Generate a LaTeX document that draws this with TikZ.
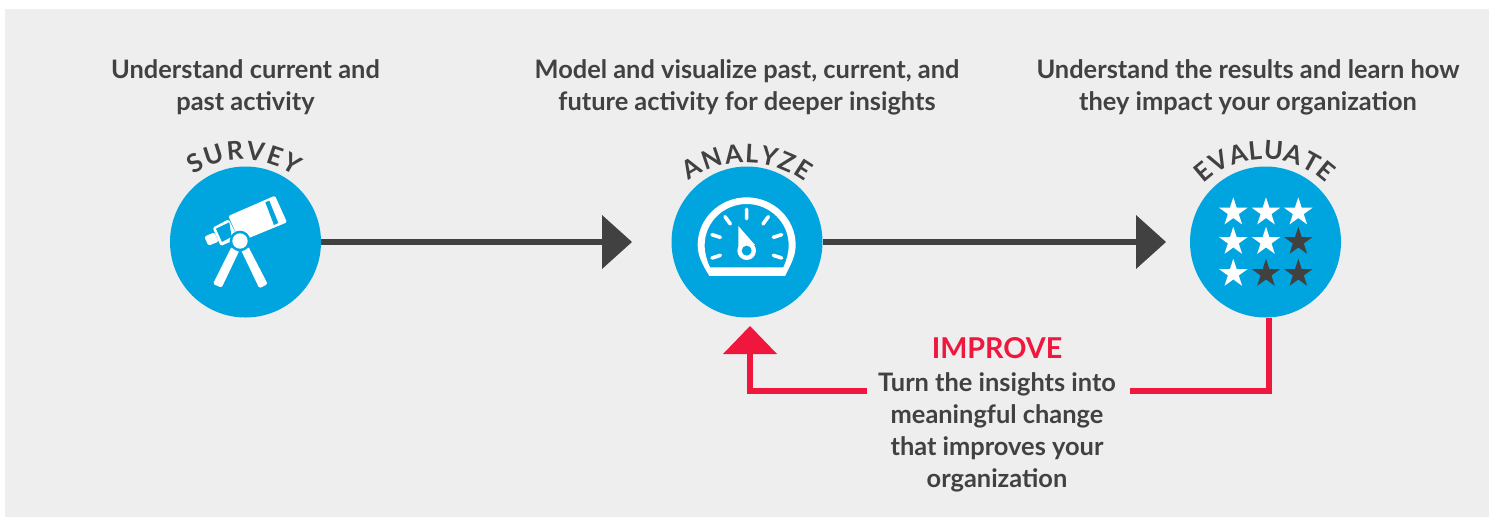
\documentclass[tikz,border=0pt]{standalone}
\usepackage{fontspec}
\setmainfont{Lato}[BoldFont={Lato Bold}]
\usetikzlibrary{decorations.text,shapes.geometric}
\definecolor{bgc}{HTML}{EEEEEE}
\definecolor{bluec}{HTML}{00A5E0}
\definecolor{darkc}{HTML}{414141}
\definecolor{redc}{HTML}{F0173F}
\tikzset{x=1pt,y=-1pt,
  head/.style={font=\fontsize{25.4}{32}\selectfont\bfseries,text=darkc,align=center,inner sep=0pt},
  circ/.style={circle,fill=bluec,minimum size=151pt,inner sep=0pt},
  flow/.style={line width=6pt,draw=darkc},
  back/.style={line width=6.5pt,draw=redc},
  wst/.style={star,star points=5,star point ratio=2.618,fill=white,minimum size=30pt,inner sep=0pt},
  dst/.style={star,star points=5,star point ratio=2.618,fill=darkc,minimum size=30pt,inner sep=0pt},
  arc text/.style={decorate,decoration={text effects along path,text={#1},
    text effects/.cd,text along path,fit text to path,
      characters={font=\fontsize{25.5}{25}\selectfont\bfseries,text=darkc,inner sep=0pt}}}
}
\begin{document}
\begin{tikzpicture}
\useasboundingbox (0,0) rectangle (1493,517);
\fill[white] (0,0) rectangle (1493,517);
\fill[bgc] (5,9) rectangle (1489,517);
% circles
\node[circ] (s) at (245.5,242) {};
\node[circ] (a) at (747,242) {};
\node[circ] (e) at (1265.5,242) {};
% head texts
\node[head] (t1) at (245.5,87) {Understand current and\\past activity};
\node[head] (t2) at (747,87) {Model and visualize past, current, and\\future activity for deeper insights};
\node[head] (t3) at (1248,87) {Understand the results and learn how\\they impact your organization};
% curved labels
\path[arc text={SURVEY}] (194,175) arc[start angle=-124,end angle=-55,radius=89];
\path[arc text={ANALYZE}] (689,181) arc[start angle=-126,end angle=-53,radius=97];
\path[arc text={EVALUATE}] (1204,184) arc[start angle=-134.5,end angle=-46,radius=87];
% arrows
\coordinate (h1) at (632,242);
\coordinate (h2) at (1166,242);
\draw[flow] (s.east) -- (604,242);
\fill[darkc] (602,215) -- (h1) -- (602,269) -- cycle;
\draw[flow] (a.east) -- (1138,242);
\fill[darkc] (1136,215) -- (h2) -- (1136,269) -- cycle;
% improve
\node[font=\fontsize{28.7}{29}\selectfont\bfseries,text=redc,inner sep=0pt] (imp) at (997,348) {IMPROVE};
\node[head,anchor=north] (tt) at (997,372) {Turn the insights into\\meaningful change\\that improves your\\organization};
\coordinate (c1) at (1269,391);
\coordinate (c2) at (750,391);
\draw[back,line join=miter] (e.south -| c1) -- (c1) -- (1130,391);
\draw[back,line join=miter] (867,391) -- (c2) -- (750,350);
\fill[redc] (723,354) -- (750,326) -- (777,354) -- cycle;
% telescope
\begin{scope}[shift={(150,130)},x=0.3333pt,y=-0.3333pt]
\fill[white,rounded corners=1.5pt] (235,258) -- (375,197) -- (411,277) -- (270,335) -- cycle;
\fill[bluec] (346,217) -- (358,212) -- (385,279) -- (372,285) -- cycle;
\fill[white,rounded corners=1.5pt] (188,293) -- (236,268) -- (265,325) -- (212,348) -- cycle;
\fill[bluec] (198,296) -- (238,277) -- (245,320) -- (216,336) -- cycle;
\fill[white,rounded corners=1.5pt] (163,320) -- (193,307) -- (206,335) -- (175,347) -- cycle;
\fill[white,rounded corners=1.5pt] (245,350) -- (268,362) -- (215,473) -- (189,462) -- cycle;
\fill[white,rounded corners=1.5pt] (273,360) -- (295,350) -- (353,462) -- (328,475) -- cycle;
\fill[bluec] (270,333) circle[radius=31];
\fill[white] (270,333) circle[radius=23];
\end{scope}
% gauge
\begin{scope}[shift={(650,130)},x=0.3333pt,y=-0.3333pt]
\fill[white,even odd rule]
  (178,438) .. controls (155,400) and (143,375) .. (143,345) .. controls (143,265) and (210,202) .. (290,202) .. controls (370,202) and (437,265) .. (437,345) .. controls (437,375) and (425,400) .. (405,438) -- cycle
  (180,412) .. controls (170,390) and (164,370) .. (164,345) .. controls (164,278) and (220,222) .. (290,222) .. controls (360,222) and (416,278) .. (416,345) .. controls (416,370) and (410,390) .. (400,412) -- cycle;
\draw[white,line width=3.6pt,line cap=round]
  (290,238) -- (290,266) (225,260) -- (241,282) (355,260) -- (339,282)
  (186,314) -- (211,322) (395,314) -- (370,322) (186,384) -- (211,376) (395,384) -- (370,376);
\fill[white] (265,288) -- (315,345) -- (265,350) -- cycle;
\fill[white] (290,362) circle[radius=28];
\fill[bluec] (290,362) circle[radius=15];
\end{scope}
% stars
\foreach \n/\x/\y/\st in {a1/1233.3/212.3/wst,a2/1266/212.3/wst,a3/1298.3/212.3/wst,
  b1/1233.3/241.7/wst,b2/1266/241.7/wst,b3/1298.3/241.7/dst,
  c1/1233.3/273.7/wst,c2/1266/273.7/dst,c3/1298.3/273.7/dst}
  \node[\st] (\n) at (\x,\y) {};
\end{tikzpicture}
\end{document}
